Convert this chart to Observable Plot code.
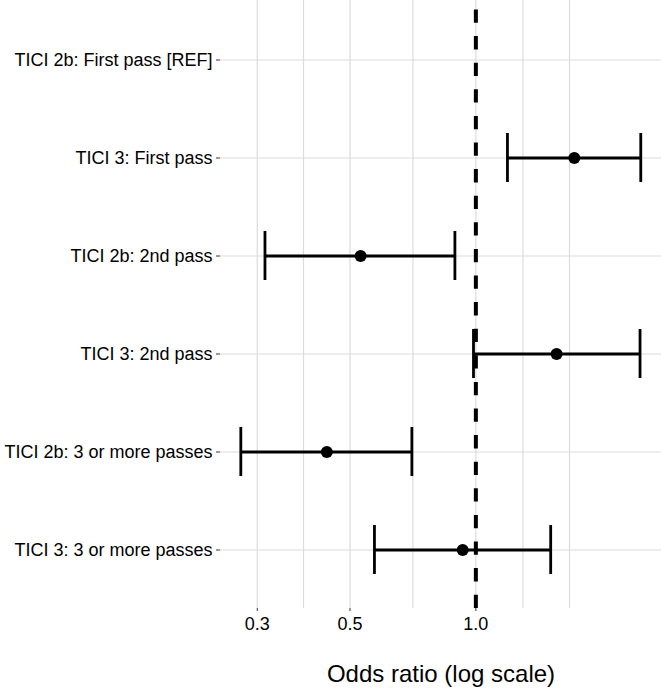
<!DOCTYPE html>
<html>
<head>
<meta charset="utf-8">
<script src="https://cdn.jsdelivr.net/npm/d3@7"></script>
<script src="https://cdn.jsdelivr.net/npm/@observablehq/plot@0.6"></script>
<style>
  html, body { margin: 0; padding: 0; background: white; }
</style>
</head>
<body>
<div id="chart"></div>
<script>
const labels = [
  "TICI 2b: First pass [REF]",
  "TICI 3: First pass",
  "TICI 2b: 2nd pass",
  "TICI 3: 2nd pass",
  "TICI 2b: 3 or more passes",
  "TICI 3: 3 or more passes"
];
const oddsRatio = [null, 1.72, 0.53, 1.56, 0.44, 0.93];
const lower = [null, 1.19, 0.313, 0.987, 0.274, 0.572];
const upper = [null, 2.48, 0.891, 2.47, 0.703, 1.51];
const xTicks = [0.3, 0.5, 1.0];
const gridValues = [0.3, 0.387, 0.5, 0.707, 1.0, 1.296, 1.675];
const xLabel = "Odds ratio (log scale)";

const rows = labels
  .map((label, i) => ({label, or: oddsRatio[i], lo: lower[i], hi: upper[i]}))
  .filter(d => d.or != null);

const chart = Plot.plot({
  width: 661,
  height: 688,
  marginTop: 0,
  marginBottom: 80,
  marginLeft: 220,
  marginRight: 0,
  style: {fontFamily: "'Liberation Sans', Arial, sans-serif", fontSize: "18px", color: "black", background: "white"},
  x: {type: "log", domain: [0.245, 2.78]},
  y: {type: "band", domain: labels, paddingInner: 0.5, paddingOuter: 0.352},
  marks: [
    Plot.ruleY(labels, {y: d => d, stroke: "#dcdcdc", strokeWidth: 1.2}),
    Plot.ruleX(gridValues, {x: d => d, stroke: "#dcdcdc", strokeWidth: 1.2}),
    Plot.ruleY(rows, {y: "label", x1: "lo", x2: "hi", stroke: "black", strokeWidth: 2.8}),
    Plot.tickX(rows, {x: "lo", y: "label", stroke: "black", strokeWidth: 2.8}),
    Plot.tickX(rows, {x: "hi", y: "label", stroke: "black", strokeWidth: 2.8}),
    Plot.ruleX([1], {x: d => d, stroke: "black", strokeWidth: 4, strokeDasharray: "13.3,13.3", strokeDashoffset: 17.1}),
    Plot.dot(rows, {x: "or", y: "label", r: 6, fill: "black", stroke: null}),
    Plot.axisY({tickSize: 4, tickPadding: 4, label: null, fontSize: 18, stroke: "#333"}),
    Plot.axisX({ticks: xTicks, tickFormat: d3.format(".1f"), tickSize: 3, tickPadding: 6, label: null, fontSize: 18, stroke: "#333"}),
    Plot.text([xLabel], {text: d => d, frameAnchor: "bottom", dy: 66, fontSize: 24, lineAnchor: "middle", fill: "black"})
  ]
});
document.getElementById("chart").appendChild(chart);
</script>
</body>
</html>
